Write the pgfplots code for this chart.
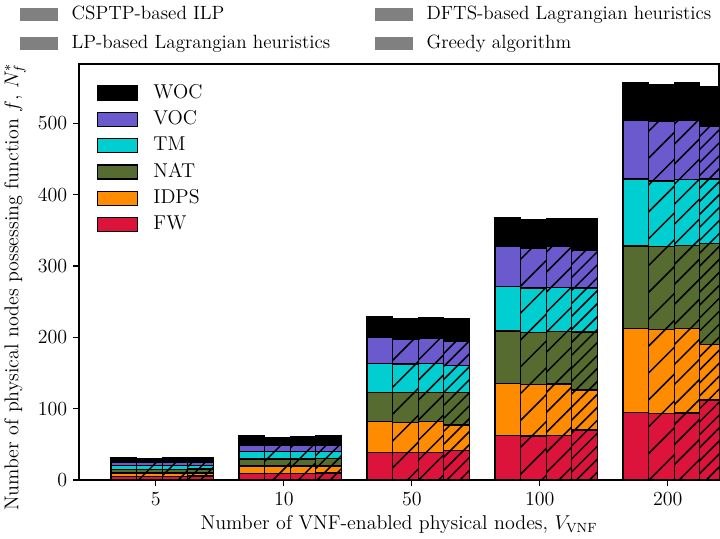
\documentclass[border=0pt]{standalone}
\usepackage{pgfplots}
\pgfplotsset{compat=1.18}
\usepackage{pgfplotstable}
\usetikzlibrary{patterns.meta,calc}

\definecolor{cFW}{RGB}{220,20,60}
\definecolor{cIDPS}{RGB}{255,140,0}
\definecolor{cNAT}{RGB}{85,107,47}
\definecolor{cTM}{RGB}{0,206,209}
\definecolor{cVOC}{RGB}{106,90,205}
\definecolor{cWOC}{RGB}{0,0,0}
\definecolor{cLeg}{RGB}{128,128,128}

% x: 0=5, 1=10, 2=50, 3=100, 4=200
\pgfplotstableread{
x FW IDPS NAT TM VOC WOC
0 5 5 5 5 5 6.7
1 9 10.4 10 10.3 9.3 12.6
2 38.7 43 41.1 40.6 36.4 28.9
3 62.6 72.8 73.3 62.1 56.9 39.7
4 94.3 117.7 116 93.6 82.4 52.4
}\ilp
\pgfplotstableread{
x FW IDPS NAT TM VOC WOC
0 5 5 5 5 5 5.3
1 9 10.4 10 10.3 9.3 10.8
2 38.3 42 42 40.2 35 28.9
3 61.6 72.4 72.3 62.7 56 40
4 93.4 117.6 115.8 92.2 84 51.6
}\lpl
\pgfplotstableread{
x FW IDPS NAT TM VOC WOC
0 5 5 5 5 5 6.7
1 9 10.4 10 10.3 9.3 11.7
2 38.7 43 41.1 40.6 35.5 28.9
3 62.6 71.8 73.3 62.2 56.9 39.7
4 94 118 116.5 92.5 83 52.4
}\dfts
\pgfplotstableread{
x FW IDPS NAT TM VOC WOC
0 5.5 4.5 5.5 4.5 5 6.7
1 10 9.5 10.5 10 9 12.6
2 41 36 45.3 37.7 33.7 32.7
3 70 56 81.3 61.7 53 44.5
4 112 78 141.5 90.5 73 56
}\greedy

\pgfplotsset{
  base/.style={
    scale only axis, width=384pt, height=249.6pt,
    xmin=-0.6, xmax=4.4, ymin=0, ymax=583,
    ybar stacked, bar width=0.2,
    every axis plot/.append style={draw=black, line width=0.8pt},
  },
  shiftby/.style={bar shift=#1, every axis plot post/.append style={bar shift=#1}},
  hatch/.style={postaction={pattern={Lines[angle=45,distance=#1,line width=0.9pt]}, pattern color=black}},
  every axis/.append style={font=\fontsize{12}{14.4}\selectfont},
}

\newcommand{\barset}[2]{%
  \addplot[fill=cFW,#2] table[x=x,y=FW]{#1};
  \addplot[fill=cIDPS,#2] table[x=x,y=IDPS]{#1};
  \addplot[fill=cNAT,#2] table[x=x,y=NAT]{#1};
  \addplot[fill=cTM,#2] table[x=x,y=TM]{#1};
  \addplot[fill=cVOC,#2] table[x=x,y=VOC]{#1};
  \addplot[fill=cWOC,#2] table[x=x,y=WOC]{#1};
}

\begin{document}
\begin{tikzpicture}
% bar set 1: CSPTP-based ILP (no hatch), carries the frame, ticks, labels and the function legend
\begin{axis}[base, shiftby=-0.25, name=ax,
  axis line style={line width=0.8pt},
  tick align=outside, major tick length=3.5pt,
  xtick pos=bottom, ytick pos=left,
  xtick={0,1,2,3,4}, xticklabels={5,10,50,100,200},
  ytick={0,100,200,300,400,500},
  tick style={line width=0.8pt, black},
  xlabel={Number of VNF-enabled physical nodes, $V_{\mathrm{VNF}}$},
  ylabel={Number of physical nodes possessing function $f$, $N_f^*$},
  xlabel style={at={(axis description cs:0.5,-0.106)}, anchor=center},
  ylabel style={at={(axis description cs:-0.1,0.464)}, anchor=center},
  legend image code/.code={\draw[#1,line width=0.8pt] (0pt,-4.2pt) rectangle (24pt,4.2pt);},
  reverse legend,
  legend cell align=left,
  legend style={at={(axis description cs:0.02,0.965)}, anchor=north west,
    draw=none, fill=none, row sep=2.8pt,
    nodes={inner sep=1pt, text height=8.5pt, text depth=2.5pt},
    /tikz/every even column/.append style={column sep=0pt},
    /tikz/every odd column/.append style={column sep=8pt}},
]
\barset{\ilp}{}
\legend{FW,IDPS,NAT,TM,VOC,WOC}
\end{axis}
% bar set 2: LP-based Lagrangian heuristics
\begin{axis}[base, shiftby=-0.05, hide axis]
\barset{\lpl}{hatch=11.4pt}
\end{axis}
% bar set 3: DFTS-based Lagrangian heuristics
\begin{axis}[base, shiftby=0.15, hide axis]
\barset{\dfts}{hatch=8.5pt}
\end{axis}
% bar set 4: Greedy algorithm
\begin{axis}[base, shiftby=0.35, hide axis]
\barset{\greedy}{hatch=5.5pt}
\end{axis}
% method legend above the axis
\begin{axis}[base, hide axis,
  legend image code/.code={\fill[#1] (0pt,-3.9pt) rectangle (22.8pt,3.9pt);},
  legend columns=2, transpose legend,
  legend cell align=left,
  legend style={at={(axis description cs:-0.1,1.152)}, anchor=north west,
    draw=none, fill=none, row sep=4.5pt,
    font=\fontsize{11.5}{13.8}\selectfont,
    nodes={inner sep=1pt, text height=8.2pt, text depth=2.4pt},
    /tikz/every odd column/.append style={column sep=7pt},
    /tikz/every even column/.append style={column sep=26pt}},
]
\addlegendimage{fill=cLeg, draw=none}
\addlegendentry{CSPTP-based ILP}
\addlegendimage{fill=cLeg, draw=none}
\addlegendentry{LP-based Lagrangian heuristics}
\addlegendimage{fill=cLeg, draw=none}
\addlegendentry{DFTS-based Lagrangian heuristics}
\addlegendimage{fill=cLeg, draw=none}
\addlegendentry{Greedy algorithm}
\end{axis}
\pgfresetboundingbox
\path[use as bounding box] ($(ax.south west)+(-47.4pt,-34.8pt)$) rectangle ($(ax.north east)+(0.6pt,38.4pt)$);
\end{tikzpicture}
\end{document}
